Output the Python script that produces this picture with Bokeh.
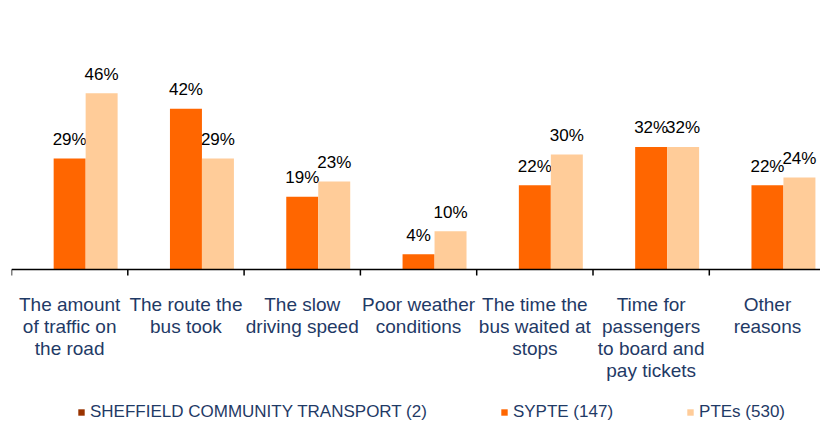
from bokeh.plotting import figure
from bokeh.models import Range1d, Legend, LegendItem, ColumnDataSource, Span
from bokeh.core.properties import value
from bokeh.embed import file_html
from bokeh.resources import INLINE

categories = [
    "The amount\nof traffic on\nthe road",
    "The route the\nbus took",
    "The slow\ndriving speed",
    "Poor weather\nconditions",
    "The time the\nbus waited at\nstops",
    "Time for\npassengers\nto board and\npay tickets",
    "Other\nreasons",
]
series_names = ["SHEFFIELD COMMUNITY TRANSPORT (2)", "SYPTE (147)", "PTEs (530)"]
sheffield = [0, 0, 0, 0, 0, 0, 0]
sypte = [29, 42, 19, 4, 22, 32, 22]
ptes = [46, 29, 23, 10, 30, 32, 24]
colors = ["#993300", "#FF6600", "#FFCC99"]

NAVY = "#1F3A66"
FONT = "Liberation Sans"
BAR_W = 0.275
CAT_PX = 116.3
FRAME_W = 809
FRAME_H = 417
PX_PER_UNIT = 3.83
ABOVE_PX = 261          # baseline distance from frame top
HIGH = ABOVE_PX / PX_PER_UNIT
LOW = (FRAME_H - ABOVE_PX) / PX_PER_UNIT
TICK = 6 / PX_PER_UNIT

n = len(categories)
centers = [i + 0.5 for i in range(n)]
bounds = [float(i) for i in range(n + 1)]

p = figure(
    frame_width=FRAME_W, frame_height=FRAME_H,
    x_range=Range1d(0, FRAME_W / CAT_PX), y_range=Range1d(-LOW, HIGH),
    output_backend="svg", toolbar_location=None,
    x_axis_location=None, y_axis_location=None,
    min_border_left=11, min_border_right=0, min_border_top=8, min_border_bottom=0,
)
p.outline_line_color = None
p.xgrid.visible = False
p.ygrid.visible = False

offsets = [-BAR_W, 0.0, BAR_W]
data_series = [sheffield, sypte, ptes]
renderers = []
for vals, off, col in zip(data_series, offsets, colors):
    src = ColumnDataSource(dict(x=[c + off for c in centers], top=vals,
                                label=[f"{v}%" for v in vals]))
    r = p.vbar(x="x", top="top", bottom=0, width=BAR_W, source=src,
               fill_color=col, line_color=None)
    renderers.append(r)
    if any(v > 0 for v in vals):
        p.text(x="x", y="top", text="label", source=src, text_align="center",
               text_baseline="alphabetic", y_offset=-19, text_font=value(FONT),
               text_font_size="17px", text_color="black")

# category axis: baseline, boundary ticks and multi-line category labels
p.add_layout(Span(location=0, dimension="width", line_color="black", line_width=1.5))
p.segment(x0=bounds, y0=[0] * len(bounds), x1=bounds, y1=[-TICK] * len(bounds),
          line_color="black", line_width=1.5)
p.text(x=centers, y=[0] * n, text=categories, text_align="center", text_baseline="top",
       y_offset=24, text_font=value(FONT), text_font_size="19px", text_color=NAVY,
       text_line_height=1.06)

legend = Legend(
    items=[LegendItem(label=nm, renderers=[r]) for nm, r in zip(series_names, renderers)],
    orientation="horizontal", location=(66, 3),
    glyph_width=8, glyph_height=8, label_standoff=5, spacing=73,
    padding=0, margin=0, border_line_color=None, background_fill_alpha=0,
    label_text_font=FONT, label_text_font_size="17px", label_text_color=NAVY,
)
p.add_layout(legend, "center")

open("out.html", "w").write(file_html(p, INLINE))
